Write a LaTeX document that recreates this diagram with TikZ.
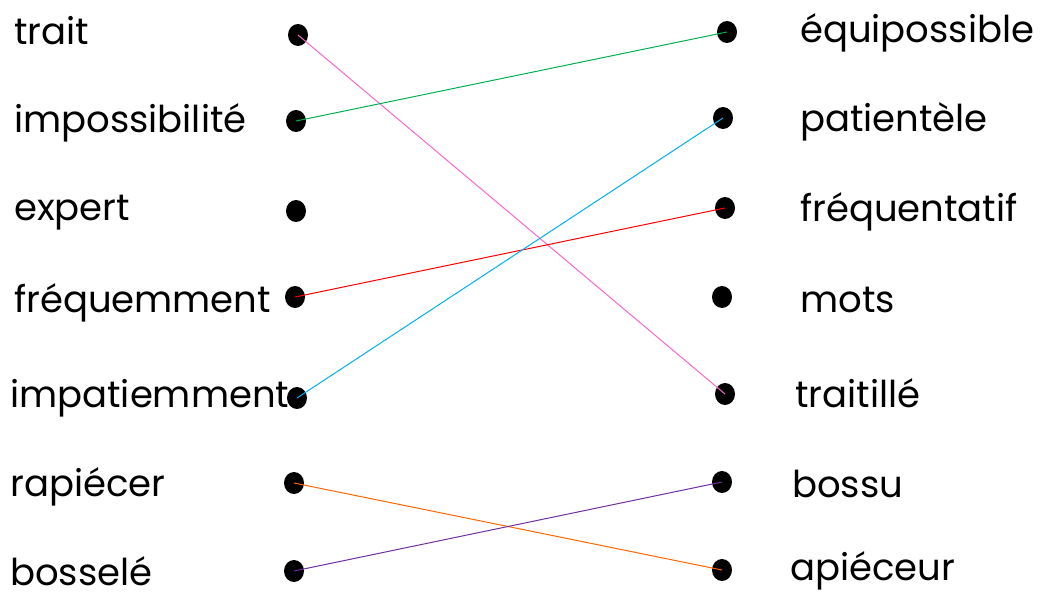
\documentclass[tikz,border=0pt]{standalone}
\usepackage{fontspec}
\setmainfont{Poppins}
\usetikzlibrary{shapes.geometric}
\definecolor{cpink}{HTML}{FF66CC}
\definecolor{cgreen}{HTML}{00B050}
\definecolor{ccyan}{HTML}{00B0F0}
\definecolor{cred}{HTML}{FF0000}
\definecolor{corange}{HTML}{FF6600}
\definecolor{cpurple}{HTML}{7030A0}
\begin{document}
\begin{tikzpicture}[x=1pt,y=-1pt,
  word/.style={anchor=base west,inner sep=0pt,font=\fontsize{37}{41}\selectfont},
  dot/.style={ellipse,fill=black,minimum width=20pt,minimum height=22pt,inner sep=0pt},
  link/.style={line width=1pt}]
\useasboundingbox (0,0) rectangle (1052,596);
% left words
\node[word] (w1) at (14,45) {trait};
\node[word] (w2) at (14,133) {impossibilité};
\node[word] (w3) at (14,221) {expert};
\node[word] (w4) at (14,312) {fréquemment};
\node[word] (w5) at (10,407) {impatiemment};
\node[word] (w6) at (10,496) {rapiécer};
\node[word] (w7) at (10,585) {bosselé};
% right words
\node[word] (r1) at (800,43) {équipossible};
\node[word] (r2) at (800,132) {patientèle};
\node[word] (r3) at (800,222) {fréquentatif};
\node[word] (r4) at (800,312) {mots};
\node[word] (r5) at (795,407) {traitillé};
\node[word] (r6) at (792,497) {bossu};
\node[word] (r7) at (790,580) {apiéceur};
% left dots
\node[dot] (a1) at (298,35) {};
\node[dot] (a2) at (296,121) {};
\node[dot] (a3) at (296,211) {};
\node[dot] (a4) at (295,297) {};
\node[dot] (a5) at (297,398) {};
\node[dot] (a6) at (294,483) {};
\node[dot] (a7) at (294,571) {};
% right dots
\node[dot] (b1) at (727,32) {};
\node[dot] (b2) at (723,118) {};
\node[dot] (b3) at (725,208) {};
\node[dot] (b4) at (722,297) {};
\node[dot] (b5) at (725,394) {};
\node[dot] (b6) at (722,482) {};
\node[dot] (b7) at (722,570) {};
% connectors
\draw[link,cpink] (a1.center) -- (b5.center);
\draw[link,cgreen] (a2.center) -- (b1.center);
\draw[link,cred] (a4.center) -- (b3.center);
\draw[link,ccyan] (a5.center) -- (b2.center);
\draw[link,corange] (a6.center) -- (b7.center);
\draw[link,cpurple] (a7.center) -- (b6.center);
\end{tikzpicture}
\end{document}
